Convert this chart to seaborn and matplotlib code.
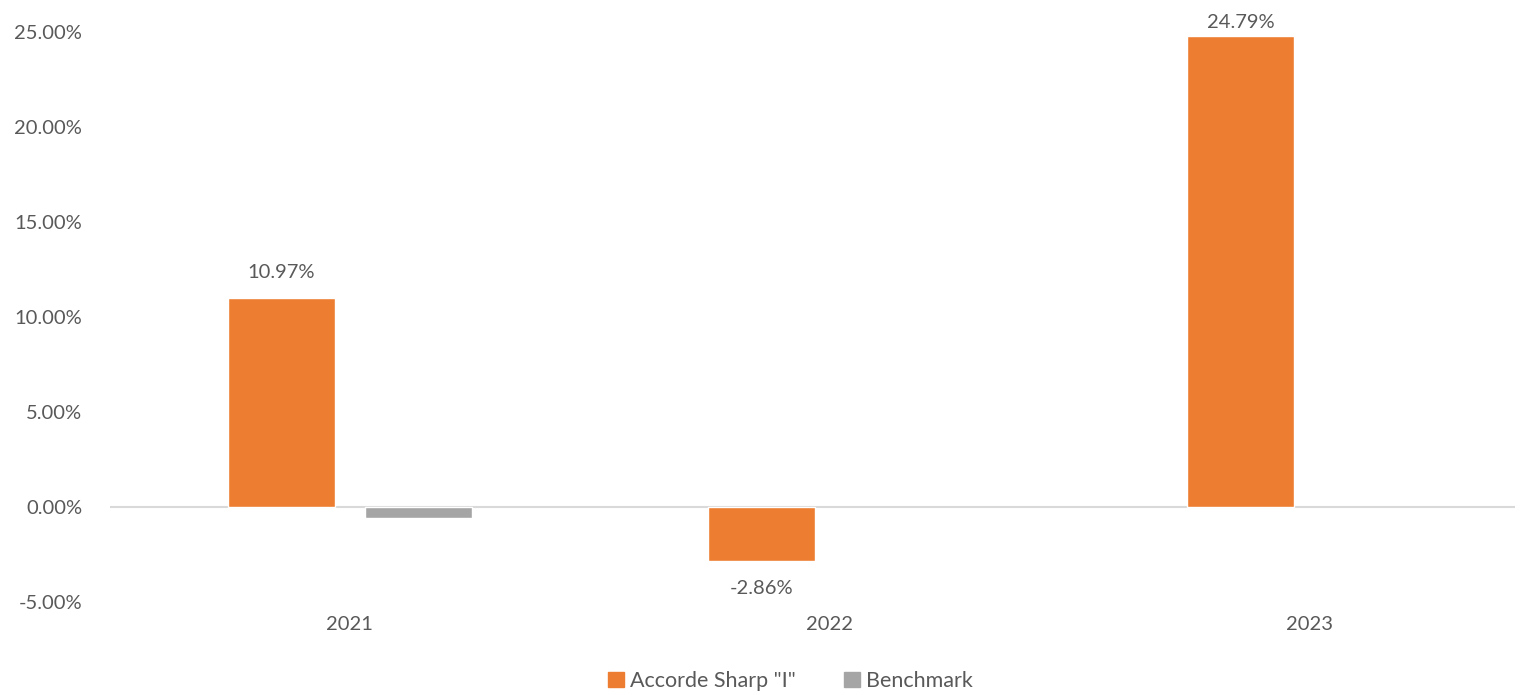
import seaborn as sns
import matplotlib.pyplot as plt
import pandas as pd
import numpy as np
from matplotlib.patches import Patch

years = ['2021', '2022', '2023']
fund = [10.97, -2.86, 24.79]
bench = [-0.60, np.nan, np.nan]
series = ['Accorde Sharp "I"', 'Benchmark']
colors = ['#ED7D31', '#A5A5A5']

df = pd.DataFrame({
    'year': years * 2,
    'value': fund + bench,
    'series': [series[0]] * 3 + [series[1]] * 3,
})

sns.set_style('white')
plt.rcParams['font.family'] = ['Lato', 'DejaVu Sans']
txt = '#595959'

fig = plt.figure(figsize=(15.29, 6.95), dpi=100)
ax = fig.add_axes([0.072, 0.134, 0.919, 0.820])

sns.barplot(data=df, x='year', y='value', hue='series', palette=colors,
            width=0.57, gap=0.218, saturation=1, ax=ax, legend=False)

ax.set_ylim(-5, 25)
ax.set_xlim(-0.5, 2.43)
ax.set_yticks(np.arange(-5, 26, 5))
ax.set_yticklabels([f'{v:.2f}%' for v in np.arange(-5, 26, 5)])
ax.axhline(0, color='#D9D9D9', lw=1.5, zorder=0)
for s in ax.spines.values():
    s.set_visible(False)
ax.tick_params(axis='both', length=0, labelsize=14.5, labelcolor=txt)
ax.tick_params(axis='x', pad=10)
ax.tick_params(axis='y', pad=20)
ax.set_xlabel('')
ax.set_ylabel('')

# data labels for the fund only (Excel keeps the top one inside the plot area)
bars = ax.containers[0]
for rect, v in zip(bars, fund):
    x = rect.get_x() + rect.get_width() / 2
    y = min(v + 1.37, 25.5) if v >= 0 else v - 1.46
    ax.text(x, y, f'{v:.2f}%', ha='center', va='center', fontsize=14.5,
            color=txt, clip_on=False)

handles = [Patch(color=c, label=l) for c, l in zip(colors, series)]
fig.legend(handles=handles, loc='lower center', bbox_to_anchor=(0.517, -0.022),
           ncol=2, frameon=False, fontsize=15.5, labelcolor=txt,
           handlelength=0.75, handleheight=0.75, handletextpad=0.3, columnspacing=2.2)

fig.savefig('out.png', dpi=100)
